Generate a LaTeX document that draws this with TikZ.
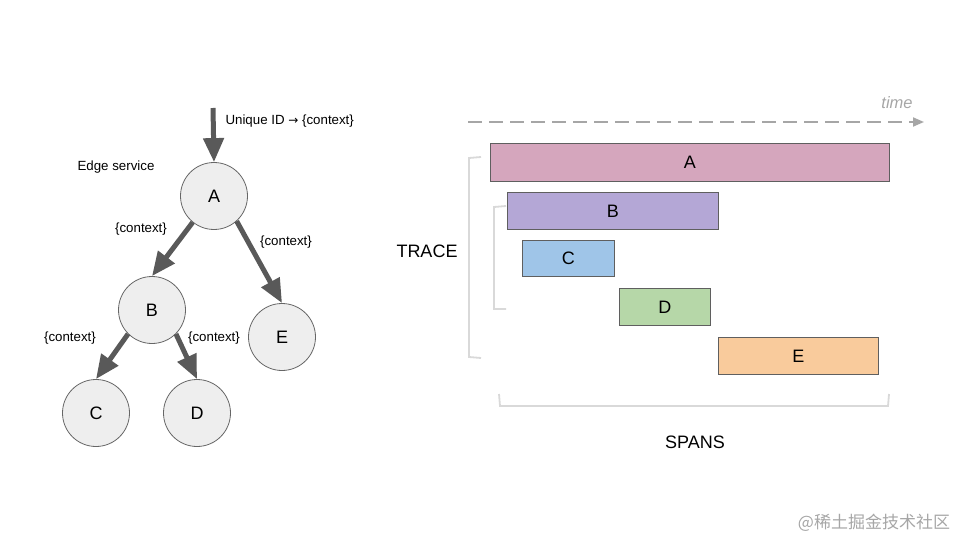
\documentclass[tikz,border=0pt]{standalone}
\usepackage{fontspec}
\setmainfont{Liberation Sans}
\newfontfamily\cjk{Noto Sans CJK SC}
\newfontfamily\djv{DejaVu Sans}
\usetikzlibrary{arrows.meta}
\definecolor{circfill}{HTML}{EEEEEE}
\definecolor{circdraw}{HTML}{666666}
\definecolor{arrcol}{HTML}{595959}
\definecolor{brk}{HTML}{D9D9D9}
\definecolor{spanA}{HTML}{D5A6BD}
\definecolor{spanB}{HTML}{B4A7D6}
\definecolor{spanC}{HTML}{9FC5E8}
\definecolor{spanD}{HTML}{B6D7A8}
\definecolor{spanE}{HTML}{F9CB9C}
\definecolor{boxdraw}{HTML}{5F5F5F}
\definecolor{timecol}{HTML}{A6A6A6}
\begin{document}
\begin{tikzpicture}[x=1pt,y=-1pt,
  svc/.style={circle,draw=circdraw,fill=circfill,line width=0.8pt,minimum size=67pt,inner sep=0pt,font=\fontsize{18}{20}\selectfont},
  arr/.style={draw=arrcol,line width=5pt,-{Triangle[length=24pt,width=20pt]}},
  lbl/.style={font=\fontsize{13.3}{15}\selectfont,text=black},
  spanbox/.style={draw=boxdraw,line width=0.8pt,anchor=north west,inner sep=0pt,font=\fontsize{18}{20}\selectfont},
  bracket/.style={draw=brk,line width=1.8pt},
  big/.style={font=\fontsize{18}{20}\selectfont}]
\useasboundingbox (0,0) rectangle (960,540);
% tree
\node[svc] (A) at (214,196) {A};
\node[svc] (B) at (152,310) {B};
\node[svc] (C) at (96,413) {C};
\node[svc] (D) at (197,413) {D};
\node[svc] (E) at (282,337) {E};
\coordinate (in) at (213,108);
\draw[arr] (in) -- (A.north);
\draw[arr] (A.231) -- (B.north);
\draw[arr] (A.-48) -- (E.north);
\draw[arr] (B.225) -- (C.north);
\draw[arr] (B.-45) -- (D.north);
\node[lbl,anchor=west] (uid) at (222,121) {Unique ID {\djv\fontsize{12}{14}\selectfont →} \{context\}};
\node[lbl] (edge) at (116,167) {Edge service};
\node[lbl] (cAB) at (141,229) {\{context\}};
\node[lbl] (cAE) at (286,242) {\{context\}};
\node[lbl] (cBC) at (70,338) {\{context\}};
\node[lbl] (cBD) at (214,338) {\{context\}};
% time axis
\coordinate (t0) at (468,122);
\coordinate (t1) at (924,122);
\draw[draw=timecol,line width=1.8pt,dash pattern=on 14pt off 7pt,-{Triangle[length=11pt,width=9pt]}] (t0) -- (t1);
\node[font=\fontsize{16.5}{18}\selectfont\itshape,text=timecol] (time) at (897,103) {time};
% spans
\node[spanbox,fill=spanA,minimum width=399pt,minimum height=38pt] (sA) at (490,143) {A};
\node[spanbox,fill=spanB,minimum width=211pt,minimum height=37pt] (sB) at (507,192) {B};
\node[spanbox,fill=spanC,minimum width=92pt,minimum height=36pt] (sC) at (522,240) {C};
\node[spanbox,fill=spanD,minimum width=91pt,minimum height=37pt] (sD) at (619,288) {D};
\node[spanbox,fill=spanE,minimum width=160pt,minimum height=37pt] (sE) at (718,337) {E};
% brackets
\draw[bracket] (481,157) -- (469,158) -- (469,357) -- (481,358);
\draw[bracket] (506,206) -- (494,207) -- (494,309) -- (506,309);
\draw[bracket] (499,394) -- (500,406) -- (888,406) -- (889,394);
\node[big] (trace) at (427,251) {TRACE};
\node[big] (spans) at (695,442) {SPANS};
% watermark
\node[font=\cjk\fontsize{17}{19}\selectfont,text=timecol] (wm) at (874,523) {@稀土掘金技术社区};
\end{tikzpicture}
\end{document}
